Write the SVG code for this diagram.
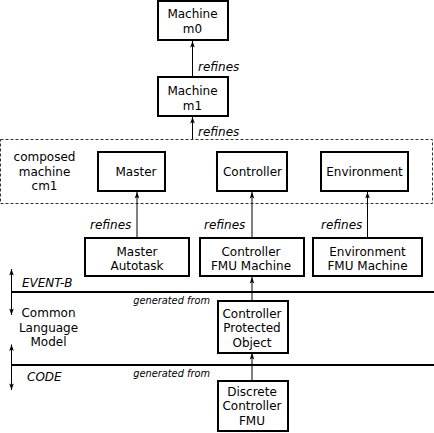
<svg xmlns="http://www.w3.org/2000/svg" width="434" height="433" viewBox="0 0 434 433">
<defs>
<marker id="ah" viewBox="-7 -3 8 6" refX="0" refY="0" markerWidth="8" markerHeight="6" markerUnits="userSpaceOnUse" orient="auto-start-reverse">
<path d="M0,0 L-6.5,-2.3 L-5,0 L-6.5,2.3 Z" fill="#000"/>
</marker>
<style>
text{font-family:"DejaVu Sans","Liberation Sans",sans-serif;font-size:12px;fill:#000}
.c{text-anchor:middle}
.i{font-style:italic}
.g{font-style:italic;font-size:9.8px;text-anchor:end}
.box{fill:#fff;stroke:#000;stroke-width:2}
.con{stroke:#000;stroke-width:1;fill:none;marker-end:url(#ah)}
.dbl{stroke:#000;stroke-width:1;fill:none;marker-end:url(#ah);marker-start:url(#ah)}
.sep{stroke:#000;stroke-width:2}
</style>
</defs>
<rect width="434" height="433" fill="#fff"/>
<g id="cm1">
<rect x="0.5" y="139.5" width="432" height="64" fill="none" stroke="#333" stroke-width="1" stroke-dasharray="3,2"/>
<text class="c" x="44.5" y="161">composed</text>
<text class="c" x="44.5" y="175.5">machine</text>
<text class="c" x="44.5" y="190">cm1</text>
</g>
<g id="layers">
<line class="sep" x1="11.5" y1="292" x2="434" y2="292"/>
<line class="sep" x1="11.5" y1="365" x2="434" y2="365"/>
<line class="dbl" x1="11.5" y1="269" x2="11.5" y2="315"/>
<line class="dbl" x1="11.5" y1="344.5" x2="11.5" y2="390"/>
<text class="i" x="22" y="287">EVENT-B</text>
<text class="c" x="48.5" y="317">Common</text>
<text class="c" x="48.5" y="331.5">Language</text>
<text class="c" x="48.5" y="346">Model</text>
<text class="i" x="27" y="381">CODE</text>
</g>
<g id="connectors">
<line class="con" x1="192.5" y1="76" x2="192.5" y2="41"/>
<line class="con" x1="192.5" y1="139" x2="192.5" y2="117"/>
<line class="con" x1="137" y1="237" x2="137" y2="192"/>
<line class="con" x1="252" y1="237" x2="252" y2="192"/>
<line class="con" x1="367.5" y1="237" x2="367.5" y2="192"/>
<line class="con" x1="252" y1="300" x2="252" y2="277"/>
<line class="con" x1="252" y1="380" x2="252" y2="353"/>
<text class="i" x="198" y="70.5">refines</text>
<text class="i" x="198" y="135.5">refines</text>
<text class="i" x="90" y="228.5">refines</text>
<text class="i" x="204" y="228.5">refines</text>
<text class="i" x="321" y="228.5">refines</text>
<text class="g" x="210" y="304">generated from</text>
<text class="g" x="210" y="377">generated from</text>
</g>
<g id="m0">
<rect class="box" x="158" y="1" width="70" height="39"/>
<text class="c" x="192.5" y="18">Machine</text>
<text class="c" x="192.5" y="33">m0</text>
</g>
<g id="m1">
<rect class="box" x="158" y="77" width="70" height="39"/>
<text class="c" x="192.5" y="95">Machine</text>
<text class="c" x="192.5" y="110">m1</text>
</g>
<g id="master">
<rect class="box" x="98" y="152" width="67" height="39"/>
<text class="c" x="136" y="176">Master</text>
</g>
<g id="controller">
<rect class="box" x="217" y="152" width="70" height="39"/>
<text class="c" x="252.5" y="176">Controller</text>
</g>
<g id="environment">
<rect class="box" x="321" y="152" width="87" height="39"/>
<text class="c" x="364.5" y="176">Environment</text>
</g>
<g id="master-autotask">
<rect class="box" x="85" y="238" width="104" height="38"/>
<text class="c" x="137" y="256">Master</text>
<text class="c" x="137" y="270">Autotask</text>
</g>
<g id="controller-fmu">
<rect class="box" x="200" y="238" width="104" height="38"/>
<text class="c" x="251" y="256">Controller</text>
<text class="c" x="251" y="270">FMU Machine</text>
</g>
<g id="environment-fmu">
<rect class="box" x="313" y="238" width="109" height="38"/>
<text class="c" x="367.5" y="256">Environment</text>
<text class="c" x="367.5" y="270">FMU Machine</text>
</g>
<g id="cpo">
<rect class="box" x="218" y="301" width="70" height="52"/>
<text class="c" x="252" y="317.5">Controller</text>
<text class="c" x="252" y="332">Protected</text>
<text class="c" x="252" y="346.5">Object</text>
</g>
<g id="dcf">
<rect class="box" x="218" y="381" width="70" height="50"/>
<text class="c" x="252" y="395.5">Discrete</text>
<text class="c" x="252" y="410">Controller</text>
<text class="c" x="252" y="425">FMU</text>
</g>
</svg>
